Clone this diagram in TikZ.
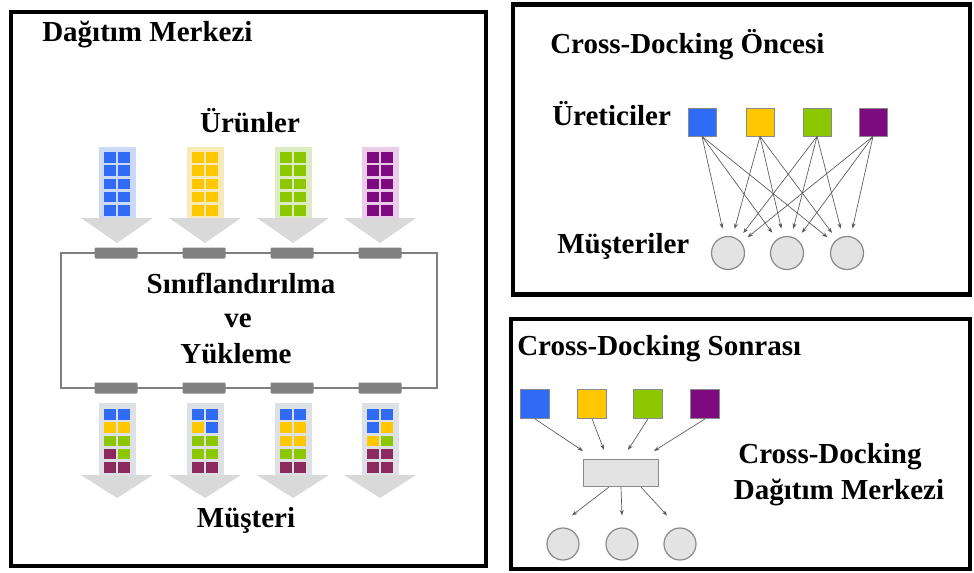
\documentclass[tikz,border=0pt]{standalone}
\usepackage{fontspec}
\setmainfont{Liberation Serif}
\usetikzlibrary{arrows.meta,calc}

\definecolor{cblue}{HTML}{2F6BF4}
\definecolor{cyel}{HTML}{FFC700}
\definecolor{cgrn}{HTML}{8CC700}
\definecolor{cpur}{HTML}{7E0A80}
\definecolor{cpurb}{HTML}{8C2A60}
\definecolor{tblue}{HTML}{CBD9F6}
\definecolor{tyel}{HTML}{F8E9B8}
\definecolor{tgrn}{HTML}{DDEBC3}
\definecolor{tpur}{HTML}{EBCBEA}
\definecolor{headgray}{HTML}{D9D9D9}
\definecolor{shaftgray}{HTML}{DDE1E6}
\definecolor{linegray}{HTML}{808080}
\definecolor{nodegray}{HTML}{E3E3E3}
\definecolor{edgegray}{HTML}{8A8A8A}
\definecolor{arrgray}{HTML}{5A5A5A}

\tikzset{
  panel/.style={draw=black, line width=3.4pt},
  lbl/.style={font=\fontsize{21.75pt}{26pt}\selectfont\bfseries, inner sep=0pt},
  src/.style={draw=edgegray, line width=0.6pt, minimum size=21pt, inner sep=0pt},
  cust/.style={circle, draw=edgegray, fill=nodegray, line width=0.9pt,
               minimum size=24.75pt, inner sep=0pt},
  hub/.style={draw=edgegray, fill=nodegray, line width=0.9pt,
              minimum width=56.25pt, minimum height=20.25pt, inner sep=0pt},
  flow/.style={draw=arrgray, line width=0.5pt, -{Stealth[length=4pt,width=3pt]}},
  dockbar/.style={fill=linegray, rounded corners=0.8pt}
}

\begin{document}
\begin{tikzpicture}[x=0.75pt,y=-0.75pt]
\useasboundingbox (0,0) rectangle (974,572);
\fill[white] (0,0) rectangle (974,572);

% ---------- left panel: distribution centre ----------
\draw[panel] (11,12) rectangle (486,566);
\node[lbl, anchor=base west] (dmtitle) at (42,41) {Dağıtım Merkezi};
\node[lbl, anchor=base] (urunler) at (250,132) {Ürünler};

% incoming product flows (one colour each)
\foreach \cx/\col/\tint in {117/cblue/tblue, 205/cyel/tyel, 293/cgrn/tgrn, 380/cpur/tpur} {
  \fill[\tint] (\cx-18.5,147) rectangle (\cx+18.5,218);
  \fill[headgray] (\cx-36,218) -- (\cx+36,218) -- (\cx,243) -- cycle;
  \foreach \r in {0,...,4} {
    \fill[\col] (\cx-13,152+13.3*\r) rectangle ++(12,10.5);
    \fill[\col] (\cx+1,152+13.3*\r) rectangle ++(12,10.5);
  }
}

% sorting and loading area
\node[draw=linegray, line width=1.5pt, minimum width=282pt, minimum height=101.25pt,
      inner sep=0pt] (sortbox) at (249,320.5) {};
\foreach \cx in {116,204,292,380} {
  \fill[dockbar] (\cx-21.5,247.5) rectangle (\cx+21.5,258.5);
  \fill[dockbar] (\cx-21.5,382.5) rectangle (\cx+21.5,393.5);
}
\node[lbl, anchor=base] (sort1) at (241,293) {Sınıflandırılma};
\node[lbl, anchor=base] (sort2) at (238,327) {ve};
\node[lbl, anchor=base] (sort3) at (236,363) {Yükleme};

% outgoing mixed flows
\foreach \cx/\cols in {
  117/{cblue,cblue,cyel,cyel,cgrn,cgrn,cpurb,cgrn,cpurb,cpurb},
  205/{cblue,cblue,cyel,cblue,cgrn,cgrn,cgrn,cgrn,cpurb,cpurb},
  293/{cblue,cblue,cyel,cyel,cyel,cyel,cgrn,cgrn,cpurb,cpurb},
  380/{cblue,cblue,cblue,cyel,cyel,cgrn,cpurb,cpurb,cpurb,cpurb}} {
  \fill[shaftgray] (\cx-18.5,403) rectangle (\cx+18.5,475);
  \fill[headgray] (\cx-36,475) -- (\cx+36,475) -- (\cx,498) -- cycle;
  \foreach \c [count=\k from 0] in \cols {
    \pgfmathsetmacro\rr{int(\k/2)}
    \pgfmathsetmacro\cc{mod(\k,2)}
    \fill[\c] (\cx-13+14*\cc,409+13.3*\rr) rectangle ++(12,10.5);
  }
}
\node[lbl, anchor=base] (musteri) at (246,527) {Müşteri};

% ---------- top right panel: before cross-docking ----------
\draw[panel] (513,4.5) rectangle (970,294.5);
\node[lbl, anchor=base west] (oncesi) at (550,53) {Cross-Docking Öncesi};
\node[lbl, anchor=base west] (ureticiler) at (552,125) {Üreticiler};
\node[lbl, anchor=base west] (musteriler) at (557,253) {Müşteriler};

\node[src, fill=cblue] (p1) at (702,122) {};
\node[src, fill=cyel]  (p2) at (760,122) {};
\node[src, fill=cgrn]  (p3) at (817,122) {};
\node[src, fill=cpur]  (p4) at (873,122) {};
\node[cust] (c1) at (728,253) {};
\node[cust] (c2) at (787,253) {};
\node[cust] (c3) at (847,253) {};
\foreach \s in {p1,p2,p3,p4}
  \foreach \t in {c1,c2,c3}
    \draw[flow, shorten >=6pt] (\s.south) -- (\t);

% ---------- bottom right panel: after cross-docking ----------
\draw[panel] (511,319) rectangle (970,569);
\node[lbl, anchor=base west] (sonrasi) at (517,355) {Cross-Docking Sonrası};
\node[lbl, anchor=base] (cdlabel1) at (830,463) {Cross-Docking};
\node[lbl, anchor=base] (cdlabel2) at (839,499) {Dağıtım Merkezi};

\node[src, fill=cblue, minimum size=21.75pt] (q1) at (535,404) {};
\node[src, fill=cyel,  minimum size=21.75pt] (q2) at (592,404) {};
\node[src, fill=cgrn,  minimum size=21.75pt] (q3) at (648,404) {};
\node[src, fill=cpur,  minimum size=21.75pt] (q4) at (705,404) {};
\node[hub] (hub) at (621,473) {};
\node[cust, minimum size=24pt] (d1) at (563,544) {};
\node[cust, minimum size=24pt] (d2) at (622,544) {};
\node[cust, minimum size=24pt] (d3) at (680,544) {};

\draw[flow] (q1.south) -- ($(hub.north west)+(0,-8)$);
\draw[flow] (q2.south) -- ($(hub.north)+(-17,-9)$);
\draw[flow] (q3.south) -- ($(hub.north)+(7,-9)$);
\draw[flow] (q4.south) -- ($(hub.north east)+(-5,-8)$);

\draw[flow] ($(hub.south)+(-12,0)$) -- ($(d1.north)+(9,-12)$);
\draw[flow] (hub.south) -- ($(d2.north)+(0,-12)$);
\draw[flow] ($(hub.south)+(20,0)$) -- ($(d3.north)+(-13,-12)$);
\end{tikzpicture}
\end{document}
